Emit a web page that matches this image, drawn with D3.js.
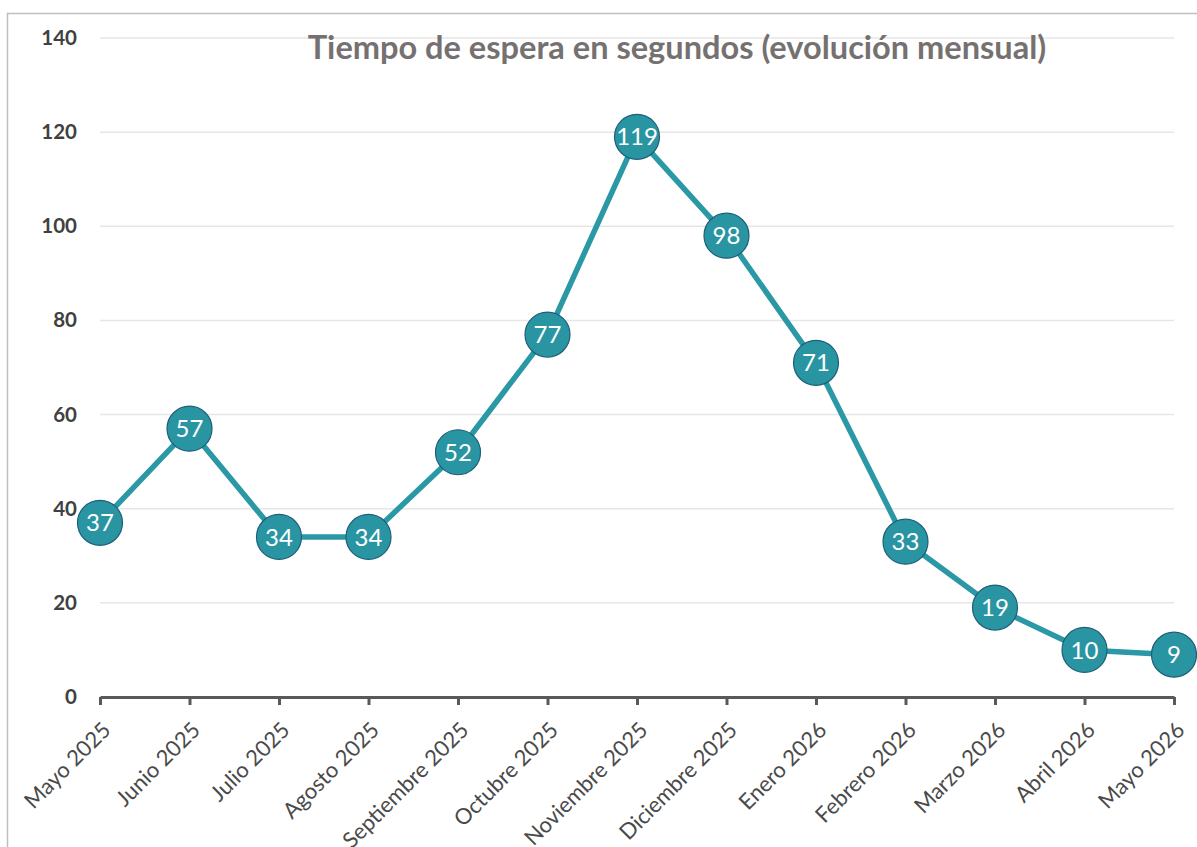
<!DOCTYPE html>
<html><head><meta charset="utf-8">
<script src="https://cdn.jsdelivr.net/npm/d3@7"></script>
<style>body{margin:0;background:#fff;} svg{display:block;}</style>
</head><body>
<svg id="c" width="1197" height="847"></svg>
<script>
const categories = ["Mayo 2025","Junio 2025","Julio 2025","Agosto 2025","Septiembre 2025","Octubre 2025","Noviembre 2025","Diciembre 2025","Enero 2026","Febrero 2026","Marzo 2026","Abril 2026","Mayo 2026"];
const values = [37,57,34,34,52,77,119,98,71,33,19,10,9];
const yTicks = [0,20,40,60,80,100,120,140];
const title = "Tiempo de espera en segundos (evolución mensual)";

const svg = d3.select("#c");
const font = "Lato, 'Open Sans', sans-serif";
svg.append("rect").attr("x",7.5).attr("y",13.5).attr("width",1200).attr("height",850)
  .attr("fill","#fff").attr("stroke","#bfbfbf").attr("stroke-width",1.5);

const x = d3.scalePoint().domain(categories).range([100,1174]);
const y = d3.scaleLinear().domain([0,140]).range([697,38]);

// gridlines
svg.append("g").selectAll("line").data(yTicks.filter(d=>d>0)).join("line")
  .attr("x1",100).attr("x2",1174).attr("y1",d=>y(d)).attr("y2",d=>y(d))
  .attr("stroke","#e6e6e6").attr("stroke-width",1.5);

// title
const t = svg.append("text").attr("x",677).attr("y",59).attr("text-anchor","middle")
  .attr("font-family",font).attr("font-weight","bold").attr("fill","#767171")
  .attr("font-size",28).text(title);
const w = t.node().getComputedTextLength();
t.attr("font-size", 28*739/w);

// y axis
const yAxis = d3.axisLeft(y).tickValues(yTicks).tickSize(0).tickPadding(23);
const gy = svg.append("g").attr("transform","translate(100,0)").call(yAxis);
gy.select(".domain").remove();
gy.selectAll("text").attr("font-family",font).attr("font-weight","bold").attr("font-size",20.5).attr("fill","#404040");

// x axis
const xAxis = d3.axisBottom(x).tickSize(8).tickSizeOuter(0).tickPadding(0);
const gx = svg.append("g").attr("transform","translate(0,697)").call(xAxis);
gx.select(".domain").attr("stroke","#595959").attr("stroke-width",3);
gx.selectAll(".tick line").attr("stroke","#595959").attr("stroke-width",3);
gx.selectAll("text").attr("font-family",font).attr("font-size",22).attr("fill","#4a4a4a")
  .attr("text-anchor","end").attr("dy","0.35em")
  .attr("transform","translate(6,29) rotate(-45)").attr("y",0);

// line
svg.append("path").datum(values)
  .attr("d", d3.line().x((d,i)=>x(categories[i])).y(d=>y(d)))
  .attr("fill","none").attr("stroke","#2a98a5").attr("stroke-width",5.5).attr("stroke-linejoin","round");

// markers
const m = svg.append("g").selectAll("g").data(values).join("g")
  .attr("transform",(d,i)=>`translate(${x(categories[i])},${y(d)})`);
m.append("circle").attr("r",22.5).attr("fill","#2a95a2").attr("stroke","#1d5f78").attr("stroke-width",1.2);
m.append("text").attr("text-anchor","middle").attr("dy","0.36em")
  .attr("font-family",font).attr("font-size",24).attr("fill","#fff").text(d=>d);
</script>
</body></html>
